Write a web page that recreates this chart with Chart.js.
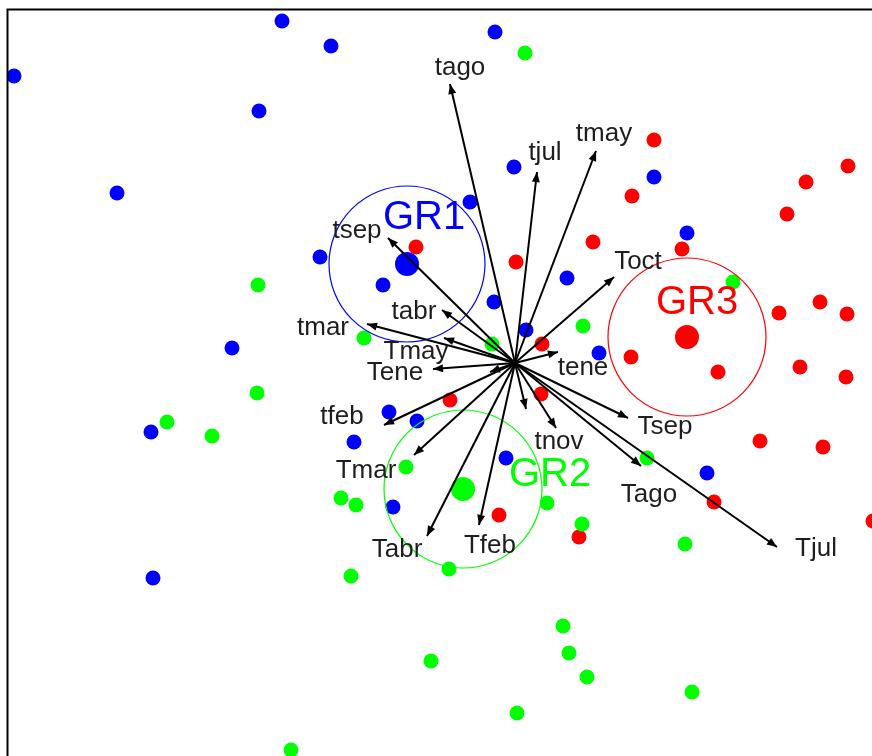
<!DOCTYPE html>
<html>
<head>
<meta charset="UTF-8">
<title>Biplot GR1 GR2 GR3</title>
<script src="https://cdn.jsdelivr.net/npm/chart.js"></script>
<style>
  body { margin: 0; background: #fff; }
  canvas { display: block; }
</style>
</head>
<body>
<canvas id="biplot" width="872" height="756"></canvas>
<script>
// observations, one pair of arrays per group
const blueX = [-2.33, -5.01, -1.84, -2.56, -3.98, -0.20, -0.01, 1.39, -0.45, 1.72, -1.95, -1.32, 0.52, -0.21, 0.11, 0.84, -2.83, -3.64, -1.26, -0.98, -1.61, -0.09, -1.22, 1.92, -3.62];
const blueY = [3.42, 2.87, 3.17, 2.52, 1.70, 3.31, 1.96, 1.86, 1.61, 1.30, 1.06, 0.78, 0.85, 0.61, 0.33, 0.10, 0.15, -0.69, -0.49, -0.58, -0.79, -0.95, -1.44, -1.10, -2.15];

const greenX = [0.10, -2.57, -2.58, -3.48, -3.03, -1.51, -0.23, 0.68, -1.09, 2.18, 1.32, -1.74, -1.59, 0.32, 0.67, -0.66, -1.64, 0.48, 0.54, 0.72, -0.84, 0.02, 1.70, 1.77, -2.24];
const greenY = [3.10, 0.78, -0.30, -0.59, -0.73, 0.25, 0.19, 0.37, -1.04, 0.81, -0.95, -1.35, -1.42, -1.40, -1.61, -2.06, -2.13, -2.63, -2.90, -3.14, -2.98, -3.50, -1.81, -3.29, -3.87];

const redX = [1.39, 1.17, 0.78, 1.67, 2.91, 2.72, 3.33, -0.99, 0.01, 0.27, -0.65, 0.26, 2.64, 3.05, 3.32, 1.16, 2.03, 2.85, 3.31, 2.45, 3.08, 1.99, -0.16, 0.64, 3.58];
const redY = [2.23, 1.67, 1.21, 1.14, 1.81, 1.49, 1.97, 1.16, 1.01, 0.19, -0.37, -0.31, 0.50, 0.61, 0.49, 0.06, -0.09, -0.04, -0.14, -0.78, -0.84, -1.39, -1.52, -1.74, -1.58];

// group centres, circle radius and label anchors
const groupNames = ['GR1', 'GR2', 'GR3'];
const groupX = [-1.08, -0.52, 1.72];
const groupY = [0.99, -1.26, 0.26];
const groupR = [0.78, 0.79, 0.79];
const groupLabelX = [-0.91, 0.35, 1.82];
const groupLabelY = [1.45, -1.12, 0.60];
const groupColors = ['#0000ff', '#00ff00', '#ff0000'];

// variable loadings (arrows from the origin) and label anchors
const arrowNames = ['tago', 'tjul', 'tmay', 'tsep', 'Toct', 'tabr', 'tmar', 'Tmay', 'Tene', 'tene', 'tfeb', 'Tmar', 'Tabr', 'Tfeb', 'tnov', '', 'Tsep', 'Tago', 'Tjul', ''];
const arrowX = [-0.65, 0.22, 0.81, -1.27, 0.99, -0.73, -1.48, -0.71, -0.82, 0.43, -1.31, -1.01, -0.88, -0.36, 0.41, 0.11, 1.13, 1.26, 2.62, -0.25];
const arrowY = [2.79, 1.91, 2.12, 1.25, 0.86, 0.53, 0.39, 0.25, -0.06, 0.11, -0.62, -0.92, -1.73, -1.62, -0.65, -0.46, -0.55, -1.03, -1.84, -0.09];
const arrowLabelX = [-0.55, 0.30, 0.89, -1.58, 1.23, -1.01, -1.92, -0.99, -1.20, 0.68, -1.73, -1.49, -1.18, -0.25, 0.44, 0, 1.50, 1.34, 3.01, 0];
const arrowLabelY = [2.95, 2.10, 2.29, 1.32, 1.01, 0.51, 0.35, 0.11, -0.10, -0.05, -0.54, -1.08, -1.87, -1.83, -0.79, 0, -0.64, -1.32, -1.86, 0];

const xMin = -5.07, xMax = 3.57, yMin = -3.93, yMax = 3.53;

function pts(xs, ys) {
  return xs.map((v, i) => ({ x: v, y: ys[i] }));
}

const biplot = {
  id: 'biplot',
  afterDatasetsDraw(chart) {
    const { ctx, chartArea: a, scales: { x, y } } = chart;
    ctx.save();
    ctx.beginPath();
    ctx.rect(a.left, a.top, a.right - a.left, a.bottom - a.top);
    ctx.clip();

    // group circles
    groupNames.forEach((g, i) => {
      const cx = x.getPixelForValue(groupX[i]);
      const cy = y.getPixelForValue(groupY[i]);
      const r = x.getPixelForValue(groupX[i] + groupR[i]) - cx;
      ctx.strokeStyle = groupColors[i];
      ctx.lineWidth = 1.2;
      ctx.beginPath();
      ctx.arc(cx, cy, r, 0, Math.PI * 2);
      ctx.stroke();
    });

    // arrows
    const ox = x.getPixelForValue(0), oy = y.getPixelForValue(0);
    ctx.strokeStyle = '#000';
    ctx.fillStyle = '#000';
    ctx.lineWidth = 2;
    arrowNames.forEach((n, i) => {
      const tx = x.getPixelForValue(arrowX[i]);
      const ty = y.getPixelForValue(arrowY[i]);
      const ang = Math.atan2(ty - oy, tx - ox);
      ctx.beginPath();
      ctx.moveTo(ox, oy);
      ctx.lineTo(tx, ty);
      ctx.stroke();
      const hl = 10, hw = 4;
      ctx.beginPath();
      ctx.moveTo(tx, ty);
      ctx.lineTo(tx - hl * Math.cos(ang) + hw * Math.sin(ang), ty - hl * Math.sin(ang) - hw * Math.cos(ang));
      ctx.lineTo(tx - hl * Math.cos(ang) - hw * Math.sin(ang), ty - hl * Math.sin(ang) + hw * Math.cos(ang));
      ctx.closePath();
      ctx.fill();
    });

    // arrow labels
    ctx.textAlign = 'center';
    ctx.textBaseline = 'middle';
    ctx.font = '26px "Liberation Sans", Arial, sans-serif';
    ctx.fillStyle = '#1e1e1e';
    arrowNames.forEach((n, i) => {
      if (!n) return;
      ctx.fillText(n, x.getPixelForValue(arrowLabelX[i]), y.getPixelForValue(arrowLabelY[i]));
    });

    // group labels
    ctx.font = '40px "Liberation Sans", Arial, sans-serif';
    groupNames.forEach((g, i) => {
      ctx.fillStyle = groupColors[i];
      ctx.fillText(g, x.getPixelForValue(groupLabelX[i]), y.getPixelForValue(groupLabelY[i]));
    });
    ctx.restore();

    // frame: only the left and top edges fall inside the picture
    ctx.save();
    ctx.strokeStyle = '#000';
    ctx.lineWidth = 2;
    ctx.beginPath();
    ctx.moveTo(a.left - 0.5, a.bottom);
    ctx.lineTo(a.left - 0.5, a.top - 0.5);
    ctx.lineTo(a.right, a.top - 0.5);
    ctx.stroke();
    ctx.restore();
  }
};

new Chart(document.getElementById('biplot'), {
  type: 'scatter',
  data: {
    datasets: [
      { label: 'blue', data: pts(blueX, blueY), backgroundColor: '#0000ff', pointRadius: 7.5, borderWidth: 0, clip: 0 },
      { label: 'green', data: pts(greenX, greenY), backgroundColor: '#00ff00', pointRadius: 7.5, borderWidth: 0, clip: 0 },
      { label: 'red', data: pts(redX, redY), backgroundColor: '#ff0000', pointRadius: 7.5, borderWidth: 0, clip: 0 },
      { label: 'centres', data: pts(groupX, groupY), backgroundColor: groupColors, pointRadius: 12, borderWidth: 0, clip: 0 }
    ]
  },
  options: {
    responsive: false,
    animation: false,
    devicePixelRatio: 1,
    layout: { autoPadding: false, padding: { left: 8, top: 10, right: 0, bottom: 0 } },
    scales: {
      x: { type: 'linear', min: xMin, max: xMax, display: false },
      y: { type: 'linear', min: yMin, max: yMax, display: false }
    },
    plugins: {
      legend: { display: false },
      tooltip: { enabled: false }
    }
  },
  plugins: [biplot]
});
</script>
</body>
</html>
